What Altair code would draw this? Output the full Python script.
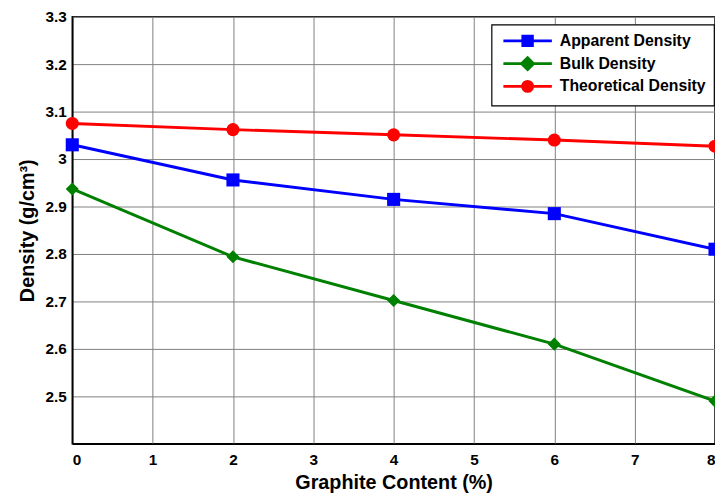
import altair as alt
import pandas as pd

graphite = [0, 2, 4, 6, 8]
apparent = [3.030, 2.956, 2.915, 2.885, 2.810]
bulk = [2.937, 2.794, 2.702, 2.610, 2.490]
theoretical = [3.075, 3.062, 3.051, 3.040, 3.027]
series_names = ["Apparent Density", "Bulk Density", "Theoretical Density"]
series_colors = ["#0000ff", "#008000", "#ff0000"]
marker_shapes = ["square", "diamond", "circle"]
y_ticks = [2.5, 2.6, 2.7, 2.8, 2.9, 3.0, 3.1, 3.2, 3.3]
x_ticks = [0, 1, 2, 3, 4, 5, 6, 7, 8]

rows = []
for name, vals in zip(series_names, [apparent, bulk, theoretical]):
    for g, v in zip(graphite, vals):
        rows.append({"Graphite": g, "Density": v, "Series": name})
df = pd.DataFrame(rows)

# legend symbols: a short line with the marker in the middle
legend_paths = [
    "M-3.5,0H3.5M-0.68,-0.68H0.68V0.68H-0.68Z",
    "M-3.5,0H3.5M-0.85,0L0,-0.85L0.85,0L0,0.85Z",
    "M-3.5,0H3.5M-0.72,0A0.72,0.72 0 1,1 0.72,0A0.72,0.72 0 1,1 -0.72,0Z",
]

FONT = "Liberation Sans"
label_style = dict(labelFont=FONT, labelFontWeight="bold", labelFontSize=15.5, labelColor="black",
                   titleFont=FONT, titleFontWeight="bold", titleFontSize=20, titleColor="black")

x = alt.X("Graphite:Q", scale=alt.Scale(domain=[0, 8], nice=False, zero=False),
          axis=alt.Axis(values=x_ticks, title="Graphite Content (%)", format="d",
                        labelPadding=9, titlePadding=5, **label_style))
y = alt.Y("Density:Q", scale=alt.Scale(domain=[2.4, 3.3], nice=False, zero=False),
          axis=alt.Axis(values=y_ticks, title="Density (g/cm³)", format="~g",
                        labelPadding=6, titleX=-45, titleBaseline="middle", **label_style))
color_scale = alt.Scale(domain=series_names, range=series_colors)

lines = alt.Chart(df).mark_line(strokeWidth=3).encode(
    x=x, y=y,
    color=alt.Color("Series:N", scale=color_scale, legend=None),
    order="Graphite:Q",
)

points = alt.Chart(df).mark_point(filled=True, size=175, opacity=1).encode(
    x=x, y=y,
    color=alt.Color("Series:N", scale=color_scale, legend=None),
    shape=alt.Shape("Series:N", scale=alt.Scale(domain=series_names, range=marker_shapes), legend=None),
)

leg = alt.Legend(
    title=None, orient="none", legendX=424, legendY=8,
    fillColor="white", strokeColor="black", cornerRadius=0,
    padding=8, rowPadding=-1, symbolSize=196, symbolStrokeWidth=3,
    symbolOffset=20,
    labelFont=FONT, labelFontWeight="bold", labelFontSize=16, labelColor="black",
    labelOffset=24, symbolOpacity=1,
)

legend_layer = alt.Chart(df).transform_filter("datum.Graphite < -100").mark_point(
    filled=True, strokeWidth=3
).encode(
    x=x, y=y,
    fill=alt.Fill("Series:N", scale=color_scale, legend=leg),
    stroke=alt.Stroke("Series:N", scale=color_scale, legend=leg),
    shape=alt.Shape("Series:N", scale=alt.Scale(domain=series_names, range=legend_paths), legend=leg),
)

chart = alt.layer(lines, points, legend_layer).resolve_scale(
    shape="independent"
).resolve_legend(
    color="independent", shape="independent", fill="independent", stroke="independent"
).properties(
    width=650, height=432,
    padding={"left": 65, "top": 6, "right": 0, "bottom": 50},
    autosize=alt.AutoSizeParams(type="none"),
).configure_view(
    stroke="black", strokeWidth=1.5
).configure_legend(
    strokeWidth=1.2
).configure_axis(
    domainColor="black", domainWidth=1.5, ticks=False,
    gridColor="#808080", gridOpacity=1, gridWidth=1,
)

chart.save("out.html", embed_options={"renderer": "svg", "actions": False})
